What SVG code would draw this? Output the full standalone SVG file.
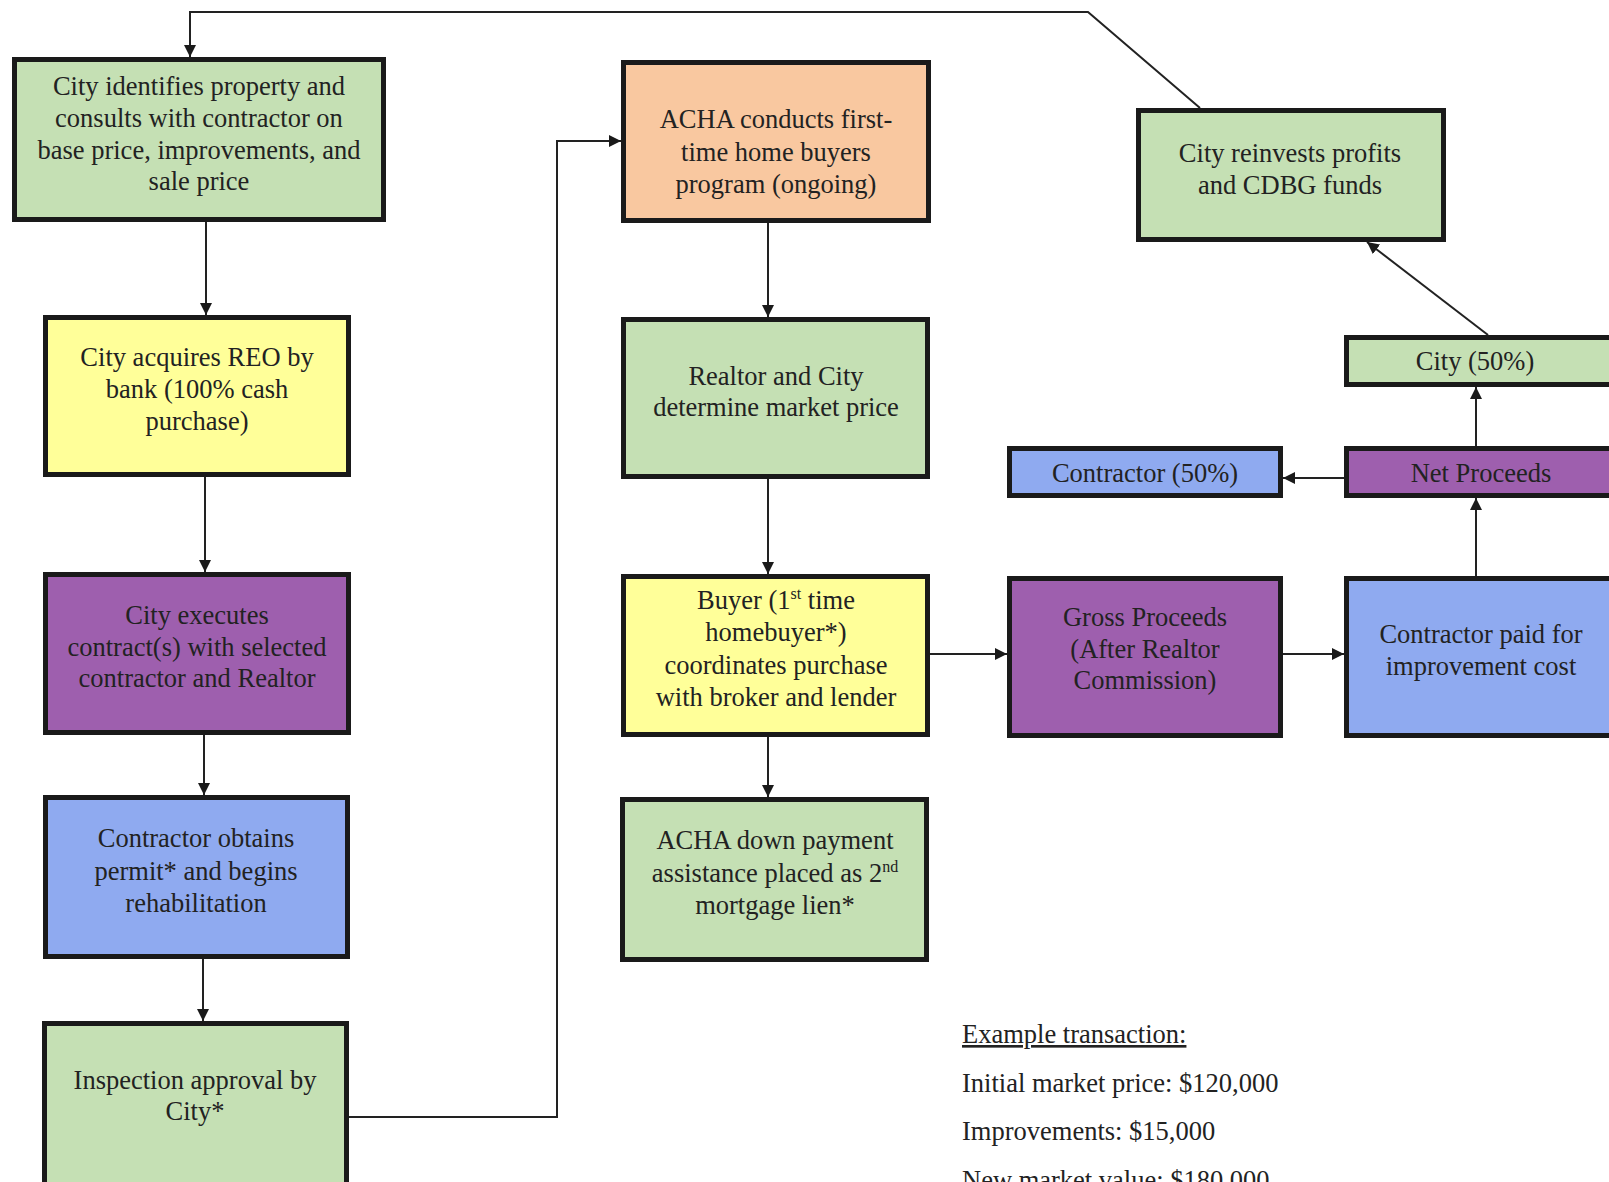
<svg xmlns="http://www.w3.org/2000/svg" width="1609" height="1182" viewBox="0 0 1609 1182">
<style>
.box{stroke:#1a1a1a;stroke-width:5}
.g{fill:#c5e0b4}.y{fill:#ffff99}.p{fill:#9e5fae}.b{fill:#8faaf0}.o{fill:#f9c8a0}
text{font-family:"Liberation Serif","Times New Roman",serif;font-size:26.5px;fill:#222}
.c{text-anchor:middle}
.conn{fill:none;stroke:#222;stroke-width:2}
</style>
<defs>
<marker id="ah" markerUnits="userSpaceOnUse" markerWidth="12" markerHeight="12" refX="12" refY="6" orient="auto">
<path d="M0,0 L12,6 L0,12 z" fill="#1a1a1a"/>
</marker>
</defs>
<rect width="1609" height="1182" fill="#fff"/>
<g id="connectors">
<polyline class="conn" points="1200,108 1088,12 190,12 190,57" marker-end="url(#ah)"/>
<line class="conn" x1="206" y1="222" x2="206" y2="315" marker-end="url(#ah)"/>
<line class="conn" x1="205" y1="477" x2="205" y2="572" marker-end="url(#ah)"/>
<line class="conn" x1="204" y1="735" x2="204" y2="795" marker-end="url(#ah)"/>
<line class="conn" x1="203" y1="959" x2="203" y2="1021" marker-end="url(#ah)"/>
<polyline class="conn" points="349,1117 557,1117 557,141 621,141" marker-end="url(#ah)"/>
<line class="conn" x1="768" y1="223" x2="768" y2="317" marker-end="url(#ah)"/>
<line class="conn" x1="768" y1="479" x2="768" y2="574" marker-end="url(#ah)"/>
<line class="conn" x1="768" y1="737" x2="768" y2="797" marker-end="url(#ah)"/>
<line class="conn" x1="930" y1="654" x2="1007" y2="654" marker-end="url(#ah)"/>
<line class="conn" x1="1283" y1="654" x2="1344" y2="654" marker-end="url(#ah)"/>
<line class="conn" x1="1476" y1="576" x2="1476" y2="498" marker-end="url(#ah)"/>
<line class="conn" x1="1344" y1="478" x2="1283" y2="478" marker-end="url(#ah)"/>
<line class="conn" x1="1476" y1="446" x2="1476" y2="387" marker-end="url(#ah)"/>
<line class="conn" x1="1488" y1="335" x2="1367" y2="242" marker-end="url(#ah)"/>
</g>
<g id="n1"><rect class="box g" x="14.5" y="59.5" width="369" height="160"/>
<text class="c" x="199"><tspan x="199" y="95">City identifies property and</tspan><tspan x="199" y="127">consults with contractor on</tspan><tspan x="199" y="159">base price, improvements, and</tspan><tspan x="199" y="190">sale price</tspan></text></g>
<g id="n2"><rect class="box y" x="45.5" y="317.5" width="303" height="157"/>
<text class="c"><tspan x="197" y="366">City acquires REO by</tspan><tspan x="197" y="398">bank (100% cash</tspan><tspan x="197" y="430">purchase)</tspan></text></g>
<g id="n3"><rect class="box p" x="45.5" y="574.5" width="303" height="158"/>
<text class="c"><tspan x="197" y="624">City executes</tspan><tspan x="197" y="656">contract(s) with selected</tspan><tspan x="197" y="687">contractor and Realtor</tspan></text></g>
<g id="n4"><rect class="box b" x="45.5" y="797.5" width="302" height="159"/>
<text class="c"><tspan x="196" y="847">Contractor obtains</tspan><tspan x="196" y="880">permit* and begins</tspan><tspan x="196" y="912">rehabilitation</tspan></text></g>
<g id="n5"><rect class="box g" x="44.5" y="1023.5" width="302" height="172"/>
<text class="c"><tspan x="195" y="1089">Inspection approval by</tspan><tspan x="195" y="1120">City*</tspan></text></g>
<g id="n6"><rect class="box o" x="623.5" y="62.5" width="305" height="158"/>
<text class="c"><tspan x="776" y="128">ACHA conducts first-</tspan><tspan x="776" y="161">time home buyers</tspan><tspan x="776" y="193">program (ongoing)</tspan></text></g>
<g id="n7"><rect class="box g" x="623.5" y="319.5" width="304" height="157"/>
<text class="c"><tspan x="776" y="385">Realtor and City</tspan><tspan x="776" y="416">determine market price</tspan></text></g>
<g id="n8"><rect class="box y" x="623.5" y="576.5" width="304" height="158"/>
<text class="c"><tspan x="776" y="609">Buyer (1<tspan font-size="16" dy="-10">st</tspan><tspan dy="10"> time</tspan></tspan><tspan x="776" y="641">homebuyer*)</tspan><tspan x="776" y="674">coordinates purchase</tspan><tspan x="776" y="706">with broker and lender</tspan></text></g>
<g id="n9"><rect class="box g" x="622.5" y="799.5" width="304" height="160"/>
<text class="c"><tspan x="775" y="849">ACHA down payment</tspan><tspan x="775" y="882">assistance placed as 2<tspan font-size="16" dy="-10">nd</tspan></tspan><tspan x="775" y="914">mortgage lien*</tspan></text></g>
<g id="n10"><rect class="box p" x="1009.5" y="578.5" width="271" height="157"/>
<text class="c"><tspan x="1145" y="626">Gross Proceeds</tspan><tspan x="1145" y="658">(After Realtor</tspan><tspan x="1145" y="689">Commission)</tspan></text></g>
<g id="n11"><rect class="box b" x="1346.5" y="578.5" width="280" height="157"/>
<text class="c"><tspan x="1481" y="643">Contractor paid for</tspan><tspan x="1481" y="675">improvement cost</tspan></text></g>
<g id="n12"><rect class="box p" x="1346.5" y="448.5" width="280" height="47"/>
<text class="c" x="1481" y="482">Net Proceeds</text></g>
<g id="n13"><rect class="box b" x="1009.5" y="448.5" width="271" height="47"/>
<text class="c" x="1145" y="482">Contractor (50%)</text></g>
<g id="n14"><rect class="box g" x="1346.5" y="337.5" width="280" height="47"/>
<text class="c" x="1475" y="370">City (50%)</text></g>
<g id="n15"><rect class="box g" x="1138.5" y="110.5" width="305" height="129"/>
<text class="c"><tspan x="1290" y="162">City reinvests profits</tspan><tspan x="1290" y="194">and CDBG funds</tspan></text></g>
<g id="example">
<text x="962" y="1043" text-decoration="underline">Example transaction:</text>
<text x="962" y="1092">Initial market price: $120,000</text>
<text x="962" y="1140">Improvements: $15,000</text>
<text x="962" y="1189">New market value: $180,000</text>
</g>
</svg>
